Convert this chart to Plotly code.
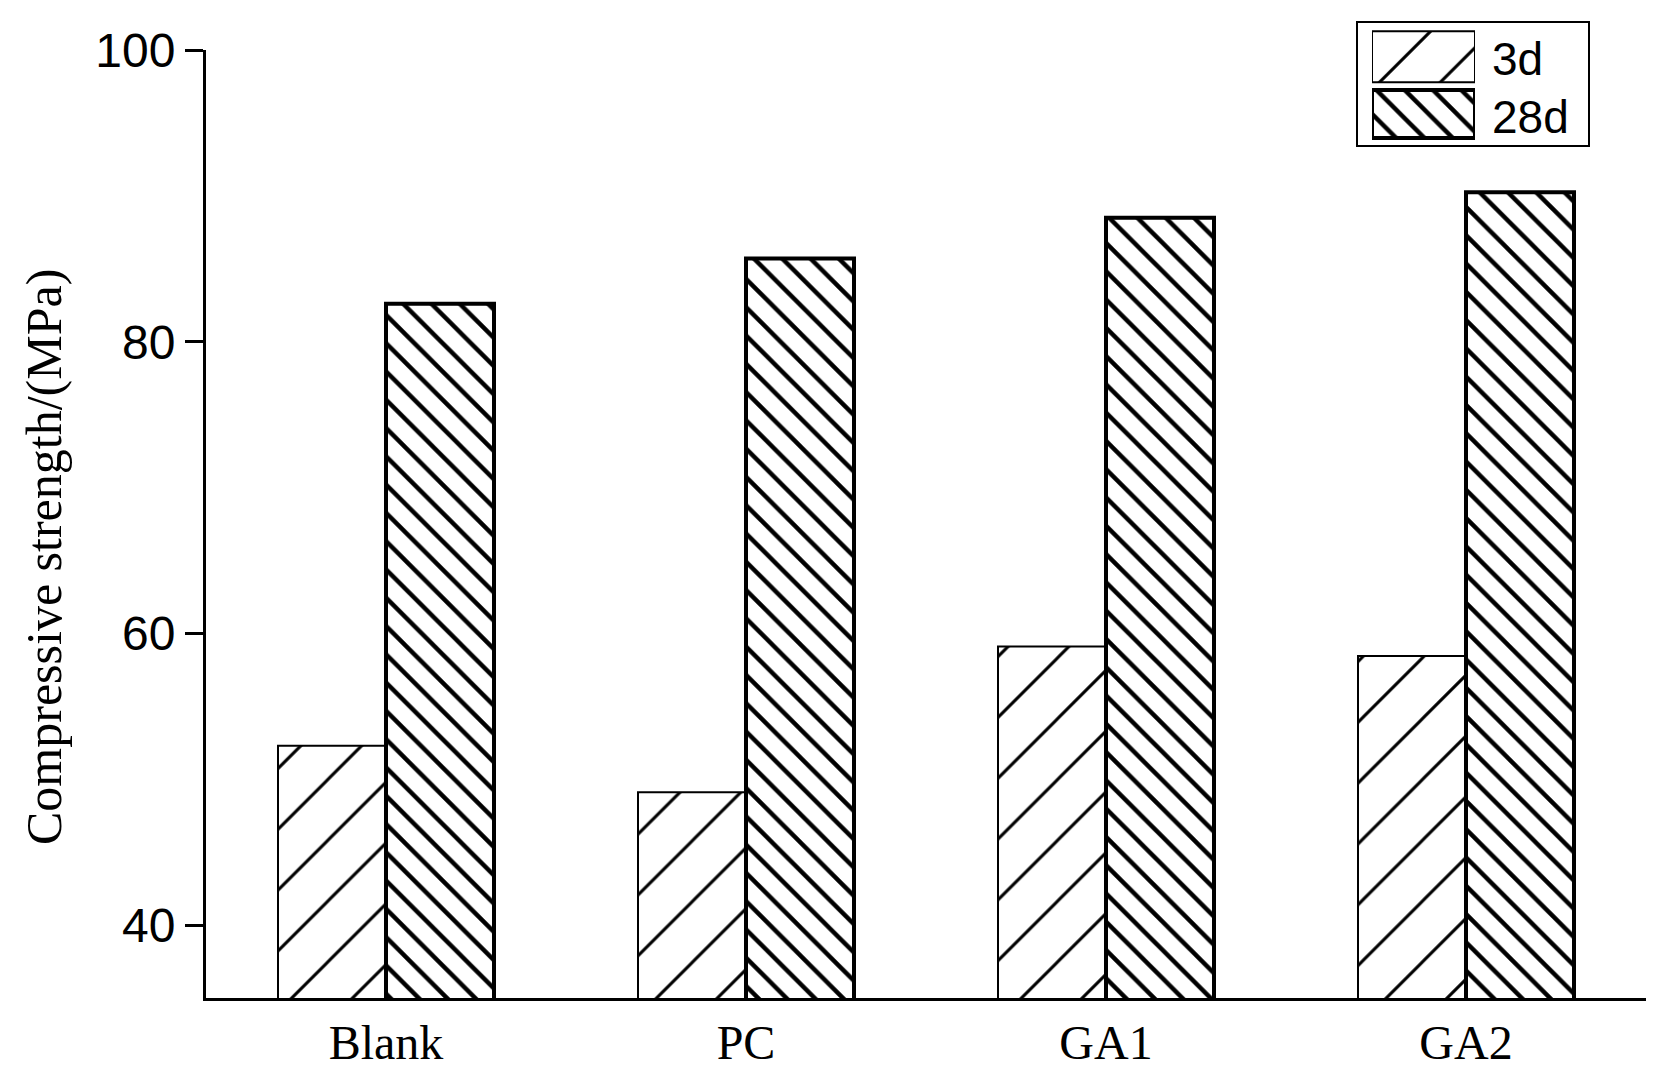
import plotly.graph_objects as go

categories = ["Blank", "PC", "GA1", "GA2"]
series_names = ["3d", "28d"]
values_3d = [52.3, 49.1, 59.1, 58.45]
values_28d = [82.6, 85.7, 88.5, 90.25]
y_ticks = [40, 60, 80, 100]
y_title = "Compressive strength/(MPa)"

# window coordinates (the page body adds an 8 px margin around the figure)
OFF = 8
WIN_W, WIN_H = 1664, 1085
W, H = WIN_W - 2 * OFF, WIN_H - 2 * OFF
PLOT_LEFT, PLOT_RIGHT, PLOT_TOP, PLOT_BOTTOM = 206, 1646, 20, 998
L = PLOT_LEFT - OFF
R = W - (PLOT_RIGHT - OFF)
T = PLOT_TOP - OFF
B = H - (PLOT_BOTTOM - OFF)
plot_w = PLOT_RIGHT - PLOT_LEFT
plot_h = PLOT_BOTTOM - PLOT_TOP


def px_x(x):
    return (x - PLOT_LEFT) / plot_w


def px_y(y):
    return (PLOT_BOTTOM - y) / plot_h


SANS = "Liberation Sans, Arial, sans-serif"
SERIF = "Liberation Serif, Times New Roman, serif"

pat_3d = dict(shape="/", size=43, solidity=0.07, fgcolor="black", bgcolor="white", fillmode="replace")
pat_28d = dict(shape="\\", size=20, solidity=0.22, fgcolor="black", bgcolor="white", fillmode="replace")

fig = go.Figure()
fig.add_trace(go.Bar(x=categories, y=values_3d, name=series_names[0],
                     marker=dict(color="white", line=dict(color="black", width=2), pattern=pat_3d)))
fig.add_trace(go.Bar(x=categories, y=values_28d, name=series_names[1],
                     marker=dict(color="white", line=dict(color="black", width=4), pattern=pat_28d)))

# legend swatches drawn as bars on a small auxiliary axis pair
fig.add_trace(go.Bar(x=[1], y=[1.5], base=0, orientation="h", width=0.92, offsetgroup="leg",
                     xaxis="x2", yaxis="y2", showlegend=False, hoverinfo="skip",
                     marker=dict(color="white", line=dict(color="black", width=2), pattern=pat_3d)))
fig.add_trace(go.Bar(x=[1], y=[0.47], base=0, orientation="h", width=0.865, offsetgroup="leg",
                     xaxis="x2", yaxis="y2", showlegend=False, hoverinfo="skip",
                     marker=dict(color="white", line=dict(color="black", width=4), pattern=pat_28d)))

fig.update_layout(
    width=W, height=H,
    margin=dict(l=L, r=R, t=T, b=B, pad=0, autoexpand=False),
    paper_bgcolor="white", plot_bgcolor="white",
    barmode="group", bargap=0.4, bargroupgap=0,
    showlegend=False,
    xaxis=dict(domain=[0, 1], range=[-0.5, 3.5], showline=True, linecolor="black", linewidth=3,
               ticks="", showgrid=False, zeroline=False, automargin=False,
               tickfont=dict(family=SERIF, size=48, color="black")),
    yaxis=dict(domain=[0, px_y(50)], range=[35, 100], showline=True, linecolor="black", linewidth=3,
               ticks="outside", ticklen=18, tickwidth=3, tickcolor="black",
               tickvals=y_ticks, showgrid=False, zeroline=False, automargin=False,
               tickfont=dict(family=SANS, size=48, color="black")),
    xaxis2=dict(domain=[px_x(1372), px_x(1475)], range=[0, 1], anchor="y2", visible=False,
                fixedrange=True, automargin=False),
    yaxis2=dict(domain=[px_y(140), px_y(29)], range=[0, 2], anchor="x2", visible=False,
                fixedrange=True, automargin=False),
    shapes=[dict(type="rect", xref="paper", yref="paper",
                 x0=px_x(1357), x1=px_x(1589), y0=px_y(146), y1=px_y(22),
                 line=dict(color="black", width=2), fillcolor="rgba(0,0,0,0)", layer="above")],
    annotations=[
        dict(text=y_title, xref="paper", yref="paper", x=px_x(44), y=px_y(557),
             xanchor="center", yanchor="middle", textangle=-90, showarrow=False,
             font=dict(family=SERIF, size=50, color="black")),
        dict(text=series_names[0], xref="paper", yref="paper", x=px_x(1490), y=px_y(59),
             xanchor="left", yanchor="middle", showarrow=False,
             font=dict(family=SANS, size=46, color="black")),
        dict(text=series_names[1], xref="paper", yref="paper", x=px_x(1490), y=px_y(117),
             xanchor="left", yanchor="middle", showarrow=False,
             font=dict(family=SANS, size=46, color="black")),
    ],
)

fig.write_html("out.html")
